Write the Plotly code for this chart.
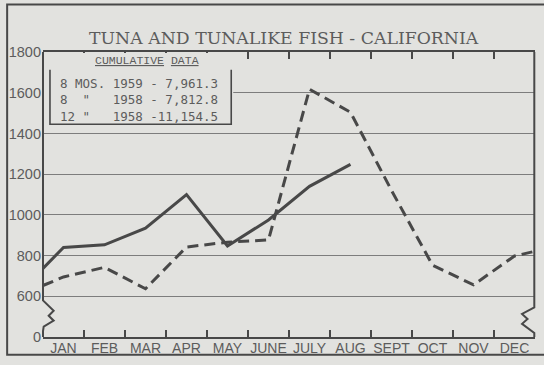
import plotly.graph_objects as go

# ---- data -------------------------------------------------------------
months = ["JAN", "FEB", "MAR", "APR", "MAY", "JUNE",
          "JULY", "AUG", "SEPT", "OCT", "NOV", "DEC"]

# 1959 landings (solid), Jan-Aug, plus value where the line enters the chart
start_1959 = 737
landings_1959 = [840, 853, 935, 1100, 847, 975, 1140, 1248]

# 1958 landings (dashed), Jan-Dec, plus entry / exit values at the chart edges
start_1958 = 653
landings_1958 = [695, 742, 637, 842, 866, 877, 1617, 1504, 1120, 753, 656, 798]
end_1958 = 821

# y-axis: broken scale, "0" sits one grid step below 600
y_tickvals = [400, 600, 800, 1000, 1200, 1400, 1600, 1800]
y_ticktext = ["0", "600", "800", "1000", "1200", "1400", "1600", "1800"]

# cumulative totals box
cum_periods = ["8 MOS.", '8  "', '12 "']
cum_years = [1959, 1958, 1958]
cum_totals = [7961.3, 7812.8, 11154.5]

title = "TUNA AND TUNALIKE FISH - CALIFORNIA"

# ---- styling ----------------------------------------------------------
BG = "rgb(226,226,223)"
INK = "rgb(72,72,72)"
TXT = "rgb(92,92,92)"
GRID = "rgb(125,125,125)"

W, H = 544, 365
ML, MR, MT, MB = 41, 9, 52, 25
PW, PH = W - ML - MR, H - MT - MB


def px(x):
    """pixel x (from page left) -> paper x"""
    return (x - ML) / PW


def py(y):
    """pixel y (from page top) -> paper y"""
    return (H - MB - y) / PH


n = len(months)
x_1959 = [0.5] + list(range(1, len(landings_1959) + 1))
y_1959 = [start_1959] + landings_1959
x_1958 = [0.5] + list(range(1, n + 1)) + [n + 0.5]
y_1958 = [start_1958] + landings_1958 + [end_1958]

fig = go.Figure()
fig.add_trace(go.Scatter(x=x_1958, y=y_1958, mode="lines",
                         line=dict(color=INK, width=3, dash="11px,6px"),
                         xaxis="x", yaxis="y", showlegend=False))
fig.add_trace(go.Scatter(x=x_1959, y=y_1959, mode="lines",
                         line=dict(color=INK, width=3),
                         xaxis="x", yaxis="y", showlegend=False))
# invisible trace carrying the month labels axis
fig.add_trace(go.Scatter(x=[1, n], y=[None, None], xaxis="x2", yaxis="y",
                         showlegend=False, hoverinfo="skip"))

shapes = []

# cumulative-data box: background patch hiding grid lines and top ticks,
# then the open three-sided frame
shapes.append(dict(type="rect", xref="paper", yref="paper",
                   x0=px(42), x1=px(232), y0=py(126), y1=py(53),
                   fillcolor=BG, line=dict(width=0), layer="above"))
shapes.append(dict(type="path", xref="paper", yref="paper",
                   path=(f"M {px(48)},{py(70)} L {px(48)},{py(125)} "
                         f"L {px(230)},{py(125)} L {px(230)},{py(70)}"),
                   line=dict(color=INK, width=1.6), layer="above"))


# left / right axis lines with scale-break zigzag
def rel(dx, dy):
    return f"{dx / PW},{dy / PH}"


left = [(0, PH), (0, 37), (10.7, 26.5), (5.7, 21.5), (10.7, 16.5),
        (0.7, 10.5), (0, 6), (0, 0)]
shapes.append(dict(type="path", xref="paper", yref="paper",
                   path="M " + " L ".join(rel(a, b) for a, b in left),
                   line=dict(color=INK, width=2), layer="above"))
right = [(PW - 0.7, PH), (PW - 0.7, 30), (PW - 13, 23.3), (PW - 7.5, 18.3),
         (PW - 13, 13.3), (PW - 0.7, 4), (PW - 0.7, 0)]
shapes.append(dict(type="path", xref="paper", yref="paper",
                   path="M " + " L ".join(rel(a, b) for a, b in right),
                   line=dict(color=INK, width=2), layer="above"))

# outer page frame
shapes.append(dict(type="path", xref="paper", yref="paper",
                   path=(f"M {px(560)},{py(4)} L {px(5)},{py(4)} "
                         f"L {px(5)},{py(358)} L {px(560)},{py(358)}"),
                   line=dict(color=INK, width=2), layer="above"))

rows = []
for per, yr, tot in zip(cum_periods, cum_years, cum_totals):
    val = f"{tot:,.1f}"
    sep = " - " if len(val) < 8 else " -"
    rows.append(f"{per:<7}{yr}{sep}{val}".replace(" ", "&nbsp;"))

annotations = [
    dict(text=title, x=px(283), y=py(38), xref="paper", yref="paper",
         showarrow=False, xanchor="center", yanchor="middle",
         font=dict(family="DejaVu Serif", size=17.3, color=TXT)),
    dict(text="<u>CUMULATIVE</u> <u>DATA</u>", x=px(145), y=py(61),
         xref="paper", yref="paper", showarrow=False,
         xanchor="center", yanchor="middle",
         font=dict(family="Liberation Mono", size=11.5, color=TXT)),
    dict(text="<br>".join(rows), x=px(56), y=py(100),
         xref="paper", yref="paper", showarrow=False, align="left",
         xanchor="left", yanchor="middle",
         font=dict(family="DejaVu Sans Mono", size=12.5, color=TXT)),
]

fig.update_layout(
    width=W, height=H,
    margin=dict(l=ML, r=MR, t=MT, b=MB),
    paper_bgcolor=BG, plot_bgcolor=BG,
    shapes=shapes, annotations=annotations,
    xaxis=dict(range=[0.5, n + 0.5], tickvals=[i + 0.5 for i in range(1, n)],
               showticklabels=False, ticks="inside", ticklen=7, tickwidth=1.5,
               tickcolor=INK, showline=True, linecolor=INK, linewidth=2,
               mirror="ticks", showgrid=False, zeroline=False),
    xaxis2=dict(range=[0.5, n + 0.5], overlaying="x", side="bottom",
                tickvals=list(range(1, n + 1)), ticktext=months,
                ticks="", showgrid=False, zeroline=False, showline=False,
                tickfont=dict(family="Liberation Sans", size=14, color=TXT),
                ticklabelstandoff=1),
    yaxis=dict(range=[400, 1800], tickvals=y_tickvals, ticktext=y_ticktext,
               showgrid=True, gridcolor=GRID, gridwidth=1.1, zeroline=False,
               showline=False, ticks="",
               tickfont=dict(family="Liberation Sans", size=14.5, color=TXT),
               ticklabelstandoff=1),
    hovermode=False,
)

fig.write_html("out.html")
